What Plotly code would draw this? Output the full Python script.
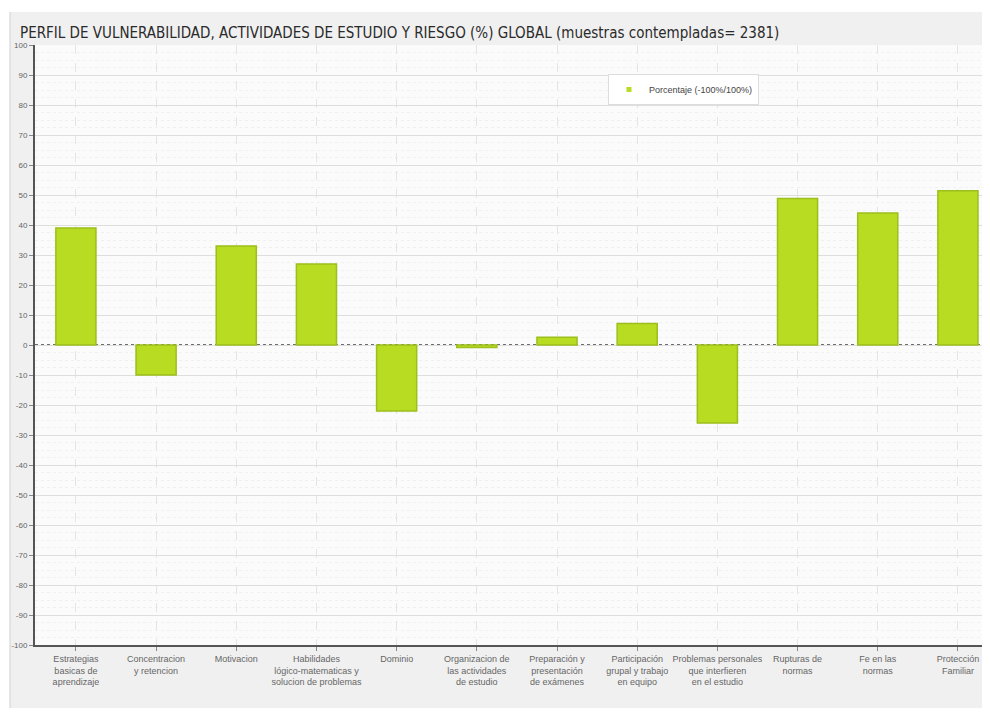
import plotly.graph_objects as go

categories = [
    "Estrategias<br>basicas de<br>aprendizaje",
    "Concentracion<br>y retencion",
    "Motivacion",
    "Habilidades<br>lógico-matematicas y<br>solucion de problemas",
    "Dominio",
    "Organizacion de<br>las actividades<br>de estudio",
    "Preparación y<br>presentación<br>de exámenes",
    "Participación<br>grupal y trabajo<br>en equipo",
    "Problemas personales<br>que interfieren<br>en el estudio",
    "Rupturas de<br>normas",
    "Fe en las<br>normas",
    "Protección<br>Familiar",
]
values = [39, -10, 33, 27, -22, -0.8, 2.6, 7.2, -26, 48.8, 44, 51.4]
y_ticks = list(range(-100, 101, 10))
series_name = "Porcentaje (-100%/100%)"
title_text = "PERFIL DE VULNERABILIDAD, ACTIVIDADES DE ESTUDIO Y RIESGO (%) GLOBAL (muestras contempladas= 2381)"

O = 8  # page body margin
W, H = 990 - O, 726 - 2 * O
L, R, T = 35 - O, 0, 45 - O
B = H - (645 - O)
pw, ph = W - L - R, H - T - B

def px_x(p):
    return (p - O - L) / pw

def px_y(p):
    return (H - B - (p - O)) / ph

x = list(range(len(categories)))
bar_color = "#b8dc22"

fig = go.Figure()
fig.add_trace(go.Bar(
    x=x, y=values, name=series_name, width=0.5,
    marker=dict(color=bar_color, line=dict(color="#9cbf1c", width=1.5)),
    showlegend=False,
))
fig.add_trace(go.Scatter(
    x=[None], y=[None], mode="markers", name=series_name,
    marker=dict(symbol="square", size=5, color=bar_color),
    showlegend=True,
))

shapes = [
    dict(type="rect", xref="paper", yref="paper", x0=px_x(10), x1=px_x(1000), y0=px_y(708), y1=px_y(12),
         fillcolor="#f0f0f0", line=dict(width=0), layer="below"),
    dict(type="line", xref="paper", yref="paper", x0=px_x(10), x1=px_x(10), y0=px_y(708), y1=px_y(12),
         line=dict(color="#d0d0d0", width=1), layer="below"),
    dict(type="rect", xref="paper", yref="paper", x0=0, x1=1, y0=0, y1=1,
         fillcolor="#fbfbfb", line=dict(width=0), layer="below"),
    dict(type="line", xref="paper", yref="y", x0=0, x1=1, y0=0, y1=0,
         line=dict(color="#6e6e6e", width=2, dash="3px,3px"), layer="below"),
]

fig.update_layout(
    width=W, height=H,
    margin=dict(l=L, r=R, t=T, b=B, pad=0),
    paper_bgcolor="white",
    plot_bgcolor="rgba(0,0,0,0)",
    font=dict(family="Liberation Sans, Arial, sans-serif", color="#666666", size=9),
    title=dict(text=title_text, x=(20 - O) / W, xref="container", xanchor="left",
               y=1 - (33 - O) / H, yref="container", yanchor="middle",
               font=dict(family="Liberation Sans Narrow, DejaVu Sans Condensed, Arial Narrow, sans-serif",
                         size=15, color="#2a2a2a")),
    shapes=shapes,
    showlegend=True,
    legend=dict(x=px_x(608), y=px_y(74), xanchor="left", yanchor="top",
                bgcolor="white", bordercolor="#dddddd", borderwidth=1,
                itemwidth=30, font=dict(size=9, color="#444444")),
    xaxis=dict(
        range=[-0.51, 11.4], tickmode="array", tickvals=x, ticktext=categories,
        tickangle=0, showgrid=True, gridcolor="#e4e4e4", griddash="dash", gridwidth=1,
        showline=True, linecolor="#555555", linewidth=2, ticks="outside", ticklen=4,
        tickcolor="#888888", zeroline=False, tickfont=dict(size=9, color="#666666"),
        fixedrange=True,
    ),
    yaxis=dict(
        range=[-100, 100], tickmode="array", tickvals=y_ticks, ticktext=[str(v) for v in y_ticks],
        showgrid=True, gridcolor="#dedede", gridwidth=1, zeroline=False,
        showline=True, linecolor="#555555", linewidth=2, ticks="outside", ticklen=4,
        tickcolor="#888888", tickfont=dict(size=8, color="#666666"),
        minor=dict(dtick=2.5, showgrid=True, gridcolor="#f0f0f0", griddash="dot"),
    ),
)

fig.write_html("out.html")
